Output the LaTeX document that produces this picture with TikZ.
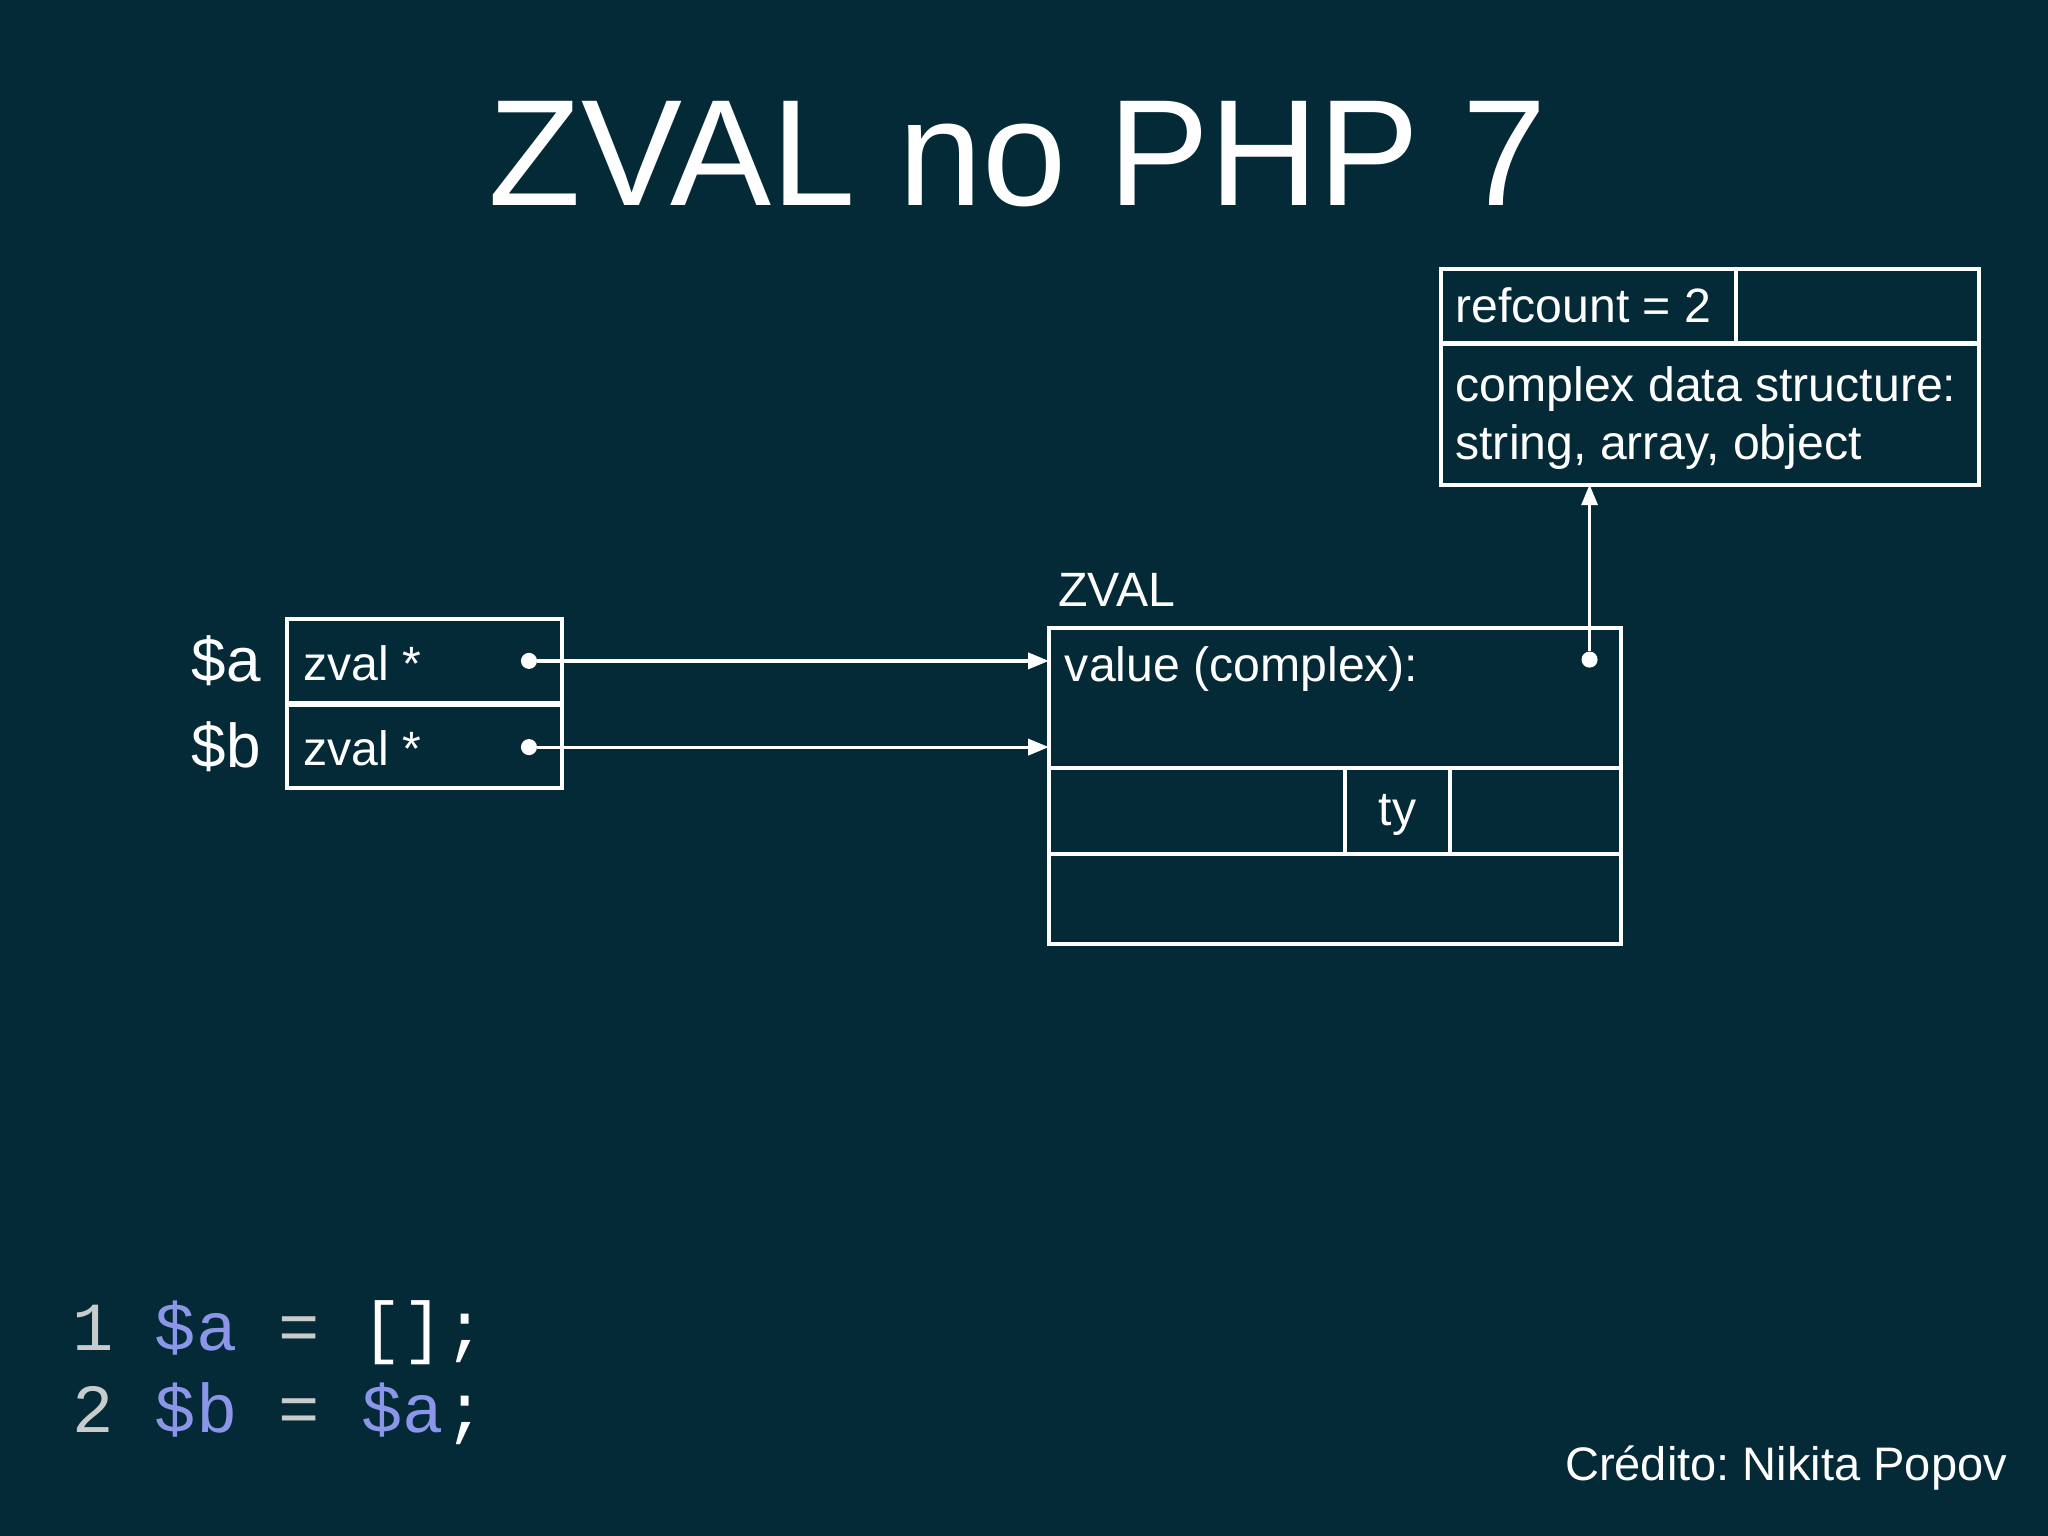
\documentclass[tikz,border=0pt]{standalone}
\usepackage{fontspec}
\setmainfont{Liberation Sans}
\setmonofont{Liberation Mono}
\usetikzlibrary{arrows.meta}
\frenchspacing
\definecolor{bg}{HTML}{032A36}
\definecolor{codeblue}{HTML}{8C96E8}
\definecolor{codegray}{HTML}{C8CCCC}
\tikzset{
  box/.style={draw=white, line width=1.8pt},
  txt/.style={text=white, font=\fontsize{21}{25}\selectfont, inner sep=0pt},
  arr/.style={white, line width=1.4pt, -{Triangle[length=9pt,width=7pt]}},
  dot/.style={circle, fill=white, inner sep=0pt, minimum size=7pt}
}
\begin{document}
\begin{tikzpicture}[x=0.02cm,y=-0.02cm]
\fill[bg] (0,0) rectangle (1568,1176);
\useasboundingbox (0,0) rectangle (1568,1176);
\node[text=white, font=\fontsize{66}{72}\selectfont, inner sep=0pt] (title) at (779,118) {ZVAL no PHP 7};
% variables
\node[txt, font=\fontsize{27}{32}\selectfont, anchor=east] (la) at (200,506) {\$a};
\node[txt, font=\fontsize{27}{32}\selectfont, anchor=east] (lb) at (200,572) {\$b};
\draw[box] (220,474) rectangle (430,538);
\draw[box] (220,540) rectangle (430,603);
\node[txt, anchor=west] (za) at (232,508) {zval *};
\node[txt, anchor=west] (zb) at (232,573) {zval *};
\node[dot] (da) at (405,506) {};
\node[dot] (db) at (405,572) {};
% ZVAL box
\node[txt, anchor=south west] (zl) at (810,465) {ZVAL};
\draw[box] (803,481) rectangle (1241,723);
\draw[box] (803,588) -- (1241,588);
\draw[box] (803,654) -- (1241,654);
\draw[box] (1030,588) -- (1030,654);
\draw[box] (1110,588) -- (1110,654);
\node[txt, anchor=west] (val) at (815,512) {value (complex):};
\node[txt] (ty) at (1070,624) {ty};
\coordinate (ta) at (803,506);
\coordinate (tb) at (803,572);
\draw[arr] (da) -- (ta);
\draw[arr] (db) -- (tb);
\node[dot] (dv) at (1217,505) {};
% refcount box
\draw[box] (1103,206) rectangle (1515,371);
\draw[box] (1103,263) -- (1515,263);
\draw[box] (1329,206) -- (1329,263);
\node[txt, anchor=west] (rc) at (1114,234) {refcount = 2};
\node[txt, anchor=west] (cd1) at (1114,298) {complex data structure:};
\node[txt, anchor=west] (cd2) at (1114,342) {string, array, object};
\coordinate (rb) at (1217,371);
\draw[arr] (dv) -- (rb);
% code
\node[anchor=west, inner sep=0pt, font=\ttfamily\fontsize{30}{36}\selectfont] (c1) at (55,1020)
  {\textcolor{codegray}{1} \textcolor{codeblue}{\$a} \textcolor{codegray}{=} \textcolor{white}{[];}};
\node[anchor=west, inner sep=0pt, font=\ttfamily\fontsize{30}{36}\selectfont] (c2) at (55,1082)
  {\textcolor{codegray}{2} \textcolor{codeblue}{\$b} \textcolor{codegray}{=} \textcolor{codeblue}{\$a}\textcolor{white}{;}};
\node[txt, anchor=east, font=\fontsize{20.5}{24}\selectfont] (cr) at (1537,1124) {Crédito: Nikita Popov};
\end{tikzpicture}
\end{document}
